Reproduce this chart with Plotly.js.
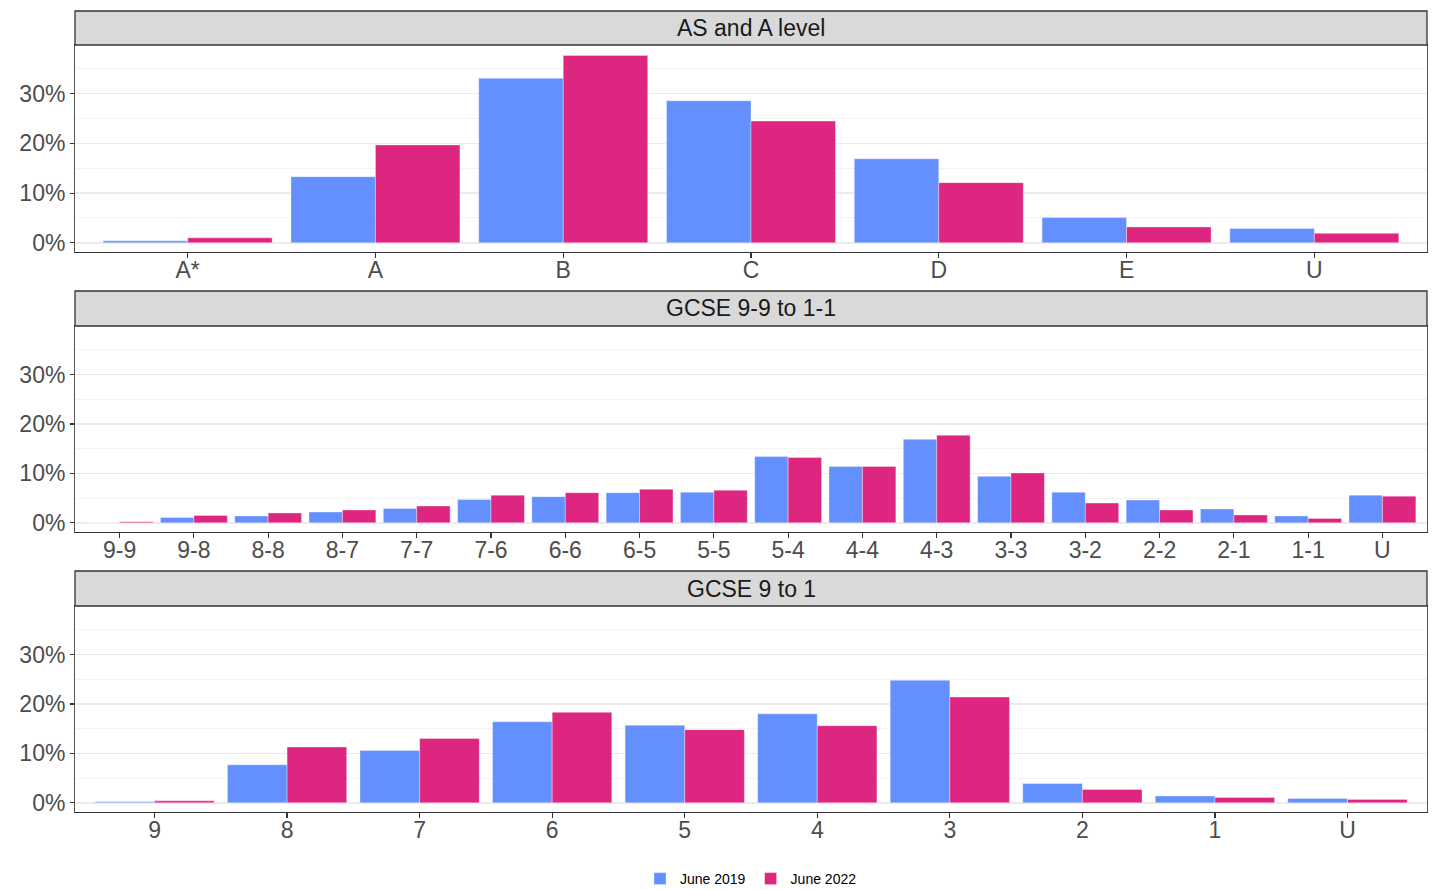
<!DOCTYPE html>
<html>
<head>
<meta charset="utf-8">
<script src="https://cdn.plot.ly/plotly-3.0.1.min.js"></script>
<style>html,body{margin:0;padding:0;background:#fff;}#chart{width:1444px;height:890px;}</style>
</head>
<body>
<div id="chart"></div>
<script>
// ---- Data (percent of entries) ----
const seriesNames = ["June 2019", "June 2022"];

const alevelGrades = ["A*", "A", "B", "C", "D", "E", "U"];
const alevel2019 = [0.4, 13.3, 33.1, 28.6, 16.9, 5.1, 2.9];
const alevel2022 = [1.0, 19.7, 37.7, 24.5, 12.1, 3.2, 1.9];

const gcseDoubleGrades = ["9-9","9-8","8-8","8-7","7-7","7-6","6-6","6-5","5-5","5-4","4-4","4-3","3-3","3-2","2-2","2-1","1-1","U"];
const gcseDouble2019 = [0.0, 1.1, 1.4, 2.2, 2.9, 4.7, 5.3, 6.1, 6.2, 13.4, 11.4, 16.9, 9.4, 6.2, 4.6, 2.8, 1.4, 5.6];
const gcseDouble2022 = [0.2, 1.5, 2.0, 2.6, 3.4, 5.6, 6.1, 6.8, 6.6, 13.2, 11.4, 17.7, 10.1, 4.0, 2.6, 1.6, 0.9, 5.4];

const gcseGrades = ["9", "8", "7", "6", "5", "4", "3", "2", "1", "U"];
const gcse2019 = [0.2, 7.7, 10.6, 16.4, 15.7, 18.0, 24.8, 3.9, 1.4, 0.9];
const gcse2022 = [0.4, 11.3, 13.0, 18.3, 14.8, 15.6, 21.4, 2.7, 1.1, 0.7];

const panelTitles = ["AS and A level", "GCSE 9-9 to 1-1", "GCSE 9 to 1"];

// ---- Styling ----
const colors = ["#648FFF", "#DC267F"];
const FONT = "Liberation Sans, Arial, Helvetica, sans-serif";

const panels = [
  {cats: alevelGrades, vals: [alevel2019, alevel2022], x: "x", y: "y"},
  {cats: gcseDoubleGrades, vals: [gcseDouble2019, gcseDouble2022], x: "x2", y: "y2"},
  {cats: gcseGrades, vals: [gcse2019, gcse2022], x: "x3", y: "y3"}
];

const traces = [];
panels.forEach((p, pi) => {
  seriesNames.forEach((name, si) => {
    traces.push({
      type: "bar",
      name: name,
      x: p.cats,
      y: p.vals[si],
      xaxis: p.x,
      yaxis: p.y,
      marker: {color: colors[si], line: {color: "rgba(255,255,255,0.45)", width: 0.8}},
      legendgroup: name,
      showlegend: pi === 0,
      hoverinfo: "x+y+name"
    });
  });
});

// pixel helpers for layout (plot area: top 45, bottom 812)
const H = 890, T = 45, B = 78;
const ph = H - T - B;
const py = pix => (H - B - pix) / ph;

const domains = [[py(252), py(45)], [py(532), py(326)], [py(812), py(606)]];
const strips = [[11, 45], [291, 326], [571, 606]];

function xaxisDef(cats, anchor) {
  return {
    type: "category",
    anchor: anchor,
    range: [-0.6, cats.length - 0.4],
    showgrid: false,
    zeroline: false,
    showline: true,
    mirror: true,
    linecolor: "#333333",
    linewidth: 1.4,
    ticks: "outside",
    ticklen: 5,
    tickwidth: 1.2,
    tickcolor: "#333333",
    ticklabelstandoff: -8,
    tickfont: {family: FONT, size: 23, color: "#4D4D4D"},
    automargin: false,
    fixedrange: true
  };
}
function yaxisDef(dom, anchor) {
  return {
    domain: dom,
    anchor: anchor,
    range: [-1.85, 39.8],
    tick0: 0,
    dtick: 10,
    ticksuffix: "%",
    showgrid: true,
    gridcolor: "#EBEBEB",
    gridwidth: 1.4,
    minor: {dtick: 5, tick0: 0, showgrid: true, gridcolor: "#F2F2F2", gridwidth: 0.9, ticks: ""},
    zeroline: false,
    showline: true,
    mirror: true,
    linecolor: "#555555",
    linewidth: 1,
    ticks: "outside",
    ticklen: 4,
    tickwidth: 1.2,
    tickcolor: "#333333",
    tickfont: {family: FONT, size: 23, color: "#4D4D4D"},
    automargin: false,
    fixedrange: true
  };
}

const shapes = [];
const annotations = [];
strips.forEach((s, i) => {
  shapes.push({
    type: "rect", xref: "paper", yref: "paper",
    x0: 0, x1: 1, y0: py(s[1]), y1: py(s[0]),
    fillcolor: "#D9D9D9", line: {color: "#333333", width: 1.3}, layer: "above"
  });
  annotations.push({
    xref: "paper", yref: "paper", x: 0.5, y: (py(s[0]) + py(s[1])) / 2,
    xanchor: "center", yanchor: "middle", showarrow: false,
    text: panelTitles[i],
    font: {family: FONT, size: 23, color: "#1A1A1A"}
  });
});

const layout = {
  width: 1444, height: 890,
  margin: {l: 75, r: 17, t: T, b: B},
  paper_bgcolor: "#FFFFFF",
  plot_bgcolor: "#FFFFFF",
  barmode: "group",
  bargap: 0.1,
  bargroupgap: 0,
  font: {family: FONT, color: "#000000"},
  showlegend: true,
  legend: {
    orientation: "h", x: 0.5, xanchor: "center",
    yref: "container", y: (H - 879) / H, yanchor: "middle",
    font: {family: FONT, size: 14, color: "#000000"},
    tracegroupgap: 0
  },
  xaxis: xaxisDef(alevelGrades, "y"),
  yaxis: yaxisDef(domains[0], "x"),
  xaxis2: xaxisDef(gcseDoubleGrades, "y2"),
  yaxis2: yaxisDef(domains[1], "x2"),
  xaxis3: xaxisDef(gcseGrades, "y3"),
  yaxis3: yaxisDef(domains[2], "x3"),
  shapes: shapes,
  annotations: annotations
};

Plotly.newPlot("chart", traces, layout, {displayModeBar: false, staticPlot: true});
</script>
</body>
</html>
